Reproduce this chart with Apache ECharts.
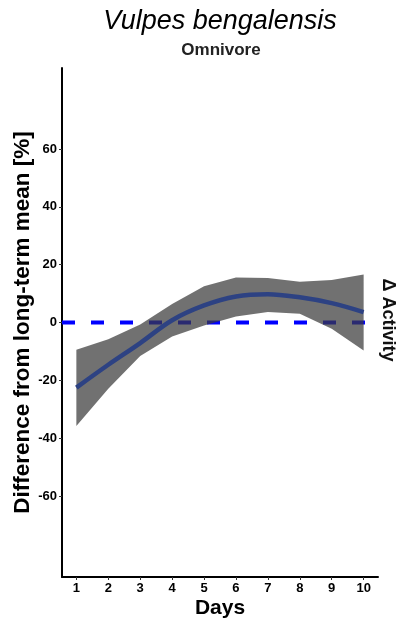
<!DOCTYPE html>
<html>
<head>
<meta charset="utf-8">
<script src="https://cdn.jsdelivr.net/npm/echarts@6/dist/echarts.min.js"></script>
<style>
  html, body { margin: 0; padding: 0; background: #fff; }
  #chart { width: 396px; height: 622px; }
</style>
</head>
<body>
<div id="chart"></div>
<script>
// Days since the event and the fitted change in activity
const days = [1, 2, 3, 4, 5, 6, 7, 8, 9, 10];
const fitValues = [-22.5, -14.6, -7.1, 0.8, 5.9, 9.0, 9.8, 8.7, 6.7, 3.6];
const upperBand = [-9.4, -5.8, -0.7, 6.4, 12.5, 15.6, 15.4, 14.1, 14.7, 16.6];
const lowerBand = [-35.8, -22.9, -11.6, -4.8, -1.0, 2.1, 3.6, 3.0, -2.2, -9.7];
const yTicks = [-60, -40, -20, 0, 20, 40, 60];
const xTicks = [1, 2, 3, 4, 5, 6, 7, 8, 9, 10];
const xRange = [0.55, 10.45];
const yRange = [-88, 88];
const referenceLevel = 0;

const FONT = '"Liberation Sans", Arial, sans-serif';

const fitData = days.map((d, i) => [d, fitValues[i]]);
const bandPoints = days.map((d, i) => [d, upperBand[i]])
  .concat(days.slice().reverse().map((d, k) => [d, lowerBand[days.length - 1 - k]]));
const zeroLine = [[xRange[0], referenceLevel], [xRange[1], referenceLevel]];

const chart = echarts.init(document.getElementById('chart'), null, { renderer: 'canvas' });

chart.setOption({
  animation: false,
  backgroundColor: '#ffffff',
  grid: { left: 62, right: 18, top: 68, bottom: 45, containLabel: false, outerBoundsMode: 'none' },
  xAxis: {
    type: 'value',
    min: xRange[0], max: xRange[1],
    name: 'Days', nameLocation: 'middle', nameGap: 21, nameMoveOverlap: false,
    nameTextStyle: { fontFamily: FONT, fontSize: 21, fontWeight: 'bold', color: '#000' },
    axisLine: { show: true, onZero: false, lineStyle: { color: '#000', width: 2 } },
    axisTick: { show: true, length: 3, customValues: xTicks, lineStyle: { color: '#333', width: 1 } },
    axisLabel: { customValues: xTicks, margin: 5, fontFamily: FONT, fontSize: 13, fontWeight: 'bold', color: '#000' },
    splitLine: { show: false }
  },
  yAxis: {
    type: 'value',
    min: yRange[0], max: yRange[1],
    name: 'Difference from long-term mean [%]', nameLocation: 'middle', nameGap: 28, nameMoveOverlap: false,
    nameTextStyle: { fontFamily: FONT, fontSize: 22.5, fontWeight: 'bold', color: '#000' },
    axisLine: { show: true, onZero: false, lineStyle: { color: '#000', width: 2 } },
    axisTick: { show: true, length: 3, customValues: yTicks, lineStyle: { color: '#333', width: 1 } },
    axisLabel: { customValues: yTicks, margin: 5, fontFamily: FONT, fontSize: 13, fontWeight: 'bold', color: '#000' },
    splitLine: { show: false }
  },
  graphic: [
    {
      type: 'text',
      x: 220, y: 21,
      style: {
        text: 'Vulpes bengalensis', fontFamily: FONT, fontSize: 27, fontStyle: 'italic',
        fill: '#000', align: 'center', verticalAlign: 'middle'
      }
    },
    {
      type: 'text',
      x: 221, y: 50,
      style: {
        text: 'Omnivore', fontFamily: FONT, fontSize: 17, fontWeight: 'bold',
        fill: '#222', align: 'center', verticalAlign: 'middle'
      }
    },
    {
      type: 'text',
      x: 388, y: 320, rotation: -Math.PI / 2,
      style: {
        text: 'Δ Activity', fontFamily: FONT, fontSize: 18, fontWeight: 'bold',
        fill: '#111', align: 'center', verticalAlign: 'middle'
      }
    }
  ],
  series: [
    {
      name: 'reference',
      type: 'line',
      data: zeroLine,
      z: 1,
      symbol: 'none',
      silent: true,
      lineStyle: { color: '#0000ff', width: 4, type: [13, 16] }
    },
    {
      name: 'band',
      type: 'custom',
      z: 2,
      silent: true,
      data: [0],
      renderItem: function (params, api) {
        const pts = bandPoints.map(p => api.coord(p));
        return {
          type: 'polygon',
          shape: { points: pts },
          style: { fill: 'rgba(58,58,58,0.72)', stroke: 'none' }
        };
      }
    },
    {
      name: 'fit',
      type: 'line',
      data: fitData,
      z: 3,
      symbol: 'none',
      smooth: 0.35,
      silent: true,
      lineStyle: { color: '#2d4283', width: 4.5 }
    }
  ]
});
</script>
</body>
</html>
